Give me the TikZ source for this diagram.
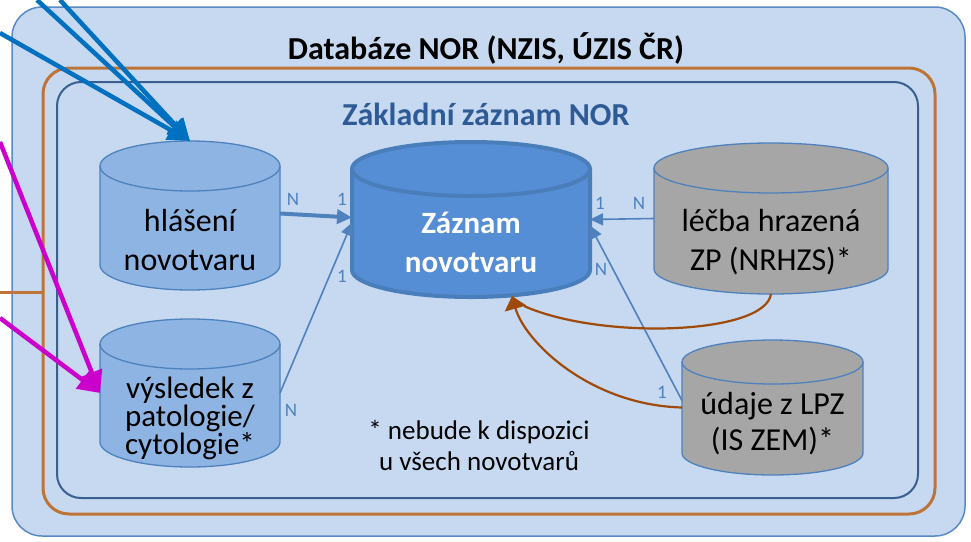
\documentclass[tikz,border=0pt]{standalone}
\usepackage{fontspec}
\setmainfont{Carlito}
\usetikzlibrary{arrows.meta}
\definecolor{outerfill}{HTML}{C6D9F1}
\definecolor{outerline}{HTML}{5A8AC6}
\definecolor{orangeline}{HTML}{BF7437}
\definecolor{innerline}{HTML}{3A5F8F}
\definecolor{cylblue}{HTML}{8EB4E3}
\definecolor{cylline}{HTML}{4F81BD}
\definecolor{mainfill}{HTML}{558ED5}
\definecolor{mainline}{HTML}{4A7EBB}
\definecolor{cylgray}{HTML}{A6A6A6}
\definecolor{brownarr}{HTML}{A04A0A}
\definecolor{titleblue}{HTML}{2E5A96}
\definecolor{extblue}{HTML}{0070C0}
\definecolor{extmag}{HTML}{CC00CC}
% cx, rx, ytop, ybot, ry, style
\newcommand{\dbcyl}[6]{%
  \path[#6] ({#1-#2},{#3+#5}) -- ({#1-#2},{#4-#5})
     arc[start angle=180,end angle=360,x radius=#2pt,y radius=#5pt]
     -- ({#1+#2},{#3+#5})
     arc[start angle=0,end angle=180,x radius=#2pt,y radius=#5pt] -- cycle;
  \path[#6,fill=none] ({#1-#2},{#3+#5})
     arc[start angle=180,end angle=360,x radius=#2pt,y radius=#5pt];
}
\tikzset{
  cylbox/.style={inner sep=0pt, outer sep=0pt},
  cyltxt/.style={align=center, font=\fontsize{32}{39}\selectfont, inner sep=0pt},
  lbl/.style={font=\fontsize{19}{19}\selectfont, text=cylline, inner sep=0pt},
  relarrow/.style={draw=cylline, line width=1.6pt, -{Triangle[length=13pt,width=12pt]}},
  extarrow/.style={line width=4.5pt, -{Triangle[length=22pt,width=21pt]}},
  brline/.style={draw=brownarr, line width=2.2pt},
}
\begin{document}
\begin{tikzpicture}[x=1pt,y=-1pt]
\useasboundingbox (0,0) rectangle (971,541);
% outer box
\draw[fill=outerfill, draw=outerline, line width=1.5pt, rounded corners=30pt] (12,7) rectangle (965,536);
\node[font=\bfseries\fontsize{32}{32}\selectfont, inner sep=0pt] (dbtitle) at (486,48) {Databáze NOR (NZIS, ÚZIS ČR)};
% orange box
\draw[draw=orangeline, line width=3pt, rounded corners=26pt] (43,68) rectangle (935,514);
\coordinate (oleft) at (0,292);
\draw[draw=orangeline, line width=3pt] (oleft) -- (43,292);
% inner box
\draw[draw=innerline, line width=2pt, rounded corners=24pt] (57,82) rectangle (918,498);
\node[font=\bfseries\fontsize{32}{32}\selectfont, text=titleblue, inner sep=0pt] (zztitle) at (486,114) {Základní záznam NOR};
% cylinders
\dbcyl{190}{90}{141}{290}{25}{fill=cylblue, draw=cylline, line width=1.3pt}
\node[cylbox, minimum width=180pt, minimum height=149pt] (hl) at (190,215.5) {};
\node[cyltxt] (hltext) at (190,240) {hlášení\\novotvaru};

\dbcyl{190}{90}{319}{467}{25}{fill=cylblue, draw=cylline, line width=1.3pt}
\node[cylbox, minimum width=180pt, minimum height=148pt] (vys) at (190,393) {};
\node[cyltxt, font=\fontsize{31}{28}\selectfont] (vystext) at (190,418) {výsledek z\\patologie/\\cytologie*};

\dbcyl{471}{119}{142}{297}{27}{fill=mainfill, draw=mainline, line width=4pt}
\node[cylbox, minimum width=238pt, minimum height=155pt] (zaz) at (471,219.5) {};
\node[cyltxt, font=\bfseries\fontsize{31}{39}\selectfont, text=white] (zaztext) at (471,242) {Záznam\\novotvaru};

\dbcyl{771}{117}{143}{294}{25}{fill=cylgray, draw=cylline, line width=1.3pt}
\node[cylbox, minimum width=234pt, minimum height=151pt] (lec) at (771,218.5) {};
\node[cyltxt] (lectext) at (771,242) {léčba hrazená\\ZP (NRHZS)*};

\dbcyl{772.5}{90.5}{340}{475}{22}{fill=cylgray, draw=cylline, line width=1.3pt}
\node[cylbox, minimum width=181pt, minimum height=135pt] (uda) at (772.5,407.5) {};
\node[cyltxt, font=\fontsize{32}{36}\selectfont] (udatext) at (772.5,424) {údaje z LPZ\\(IS ZEM)*};

% footnote
\node[align=center, font=\fontsize{27}{31}\selectfont, inner sep=0pt] (note) at (479,446) {* nebude k dispozici\\u všech novotvarů};

% relations
\draw[draw=cylline, line width=4pt, -{Triangle[length=15pt,width=14pt]}] ([yshift=2pt]hl.east) -- ([yshift=2pt]zaz.west);
\draw[relarrow] (vys.east) -- ([yshift=-3pt]zaz.west);
\draw[relarrow] (lec.west) -- (zaz.east);
\draw[relarrow] ([yshift=7pt]uda.west) -- ([yshift=-6pt]zaz.east);
\node[lbl] (l1) at (293,199) {N};
\node[lbl] (l2) at (342,199) {1};
\node[lbl] (l3) at (342,276) {1};
\node[lbl] (l4) at (291,410) {N};
\node[lbl] (l5) at (600,203) {1};
\node[lbl] (l6) at (639,203) {N};
\node[lbl] (l7) at (601,269) {N};
\node[lbl] (l8) at (662,392) {1};

% brown arrows
\coordinate (btip) at (512,296);
\coordinate (bjoin) at (524,306);
\draw[brline] (lec.south) .. controls (765,335) and (600,340) .. (bjoin);
\draw[brline, -{Triangle[length=13pt,width=22pt]}] (uda.west) .. controls (590,405) and (525,342) .. (btip);

% external arrows
\coordinate (e1) at (37,0);
\coordinate (e2) at (60,0);
\coordinate (e3) at (0,33);
\coordinate (m1) at (0,142);
\coordinate (m2) at (0,318);
\draw[extarrow, draw=extblue, fill=extblue] (e1) -- (hl.north);
\draw[extarrow, draw=extblue, fill=extblue] (e2) -- (hl.north);
\draw[extarrow, draw=extblue, fill=extblue] (e3) -- (hl.north);
\draw[extarrow, draw=extmag, fill=extmag] (m1) -- (vys.west);
\draw[extarrow, draw=extmag, fill=extmag] (m2) -- (vys.west);
\end{tikzpicture}
\end{document}
